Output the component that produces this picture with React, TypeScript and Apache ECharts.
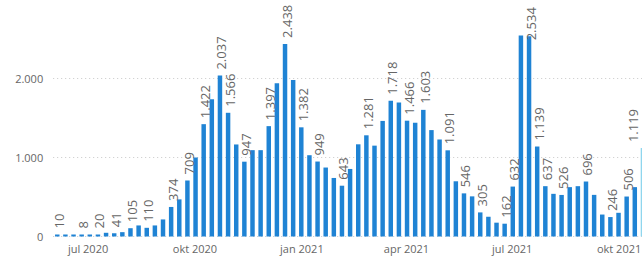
import React, { useEffect, useRef } from "react";
import * as echarts from "echarts";

// Weekly values (Monday weeks), starting week of 2020-06-01
const firstWeek = "2020-06-01";
const values: number[] = [
  10, 6, 5, 8, 9, 20, 47, 41, 55, 105,
  140, 110, 140, 216, 374, 470, 709, 1000, 1422, 1737,
  2037, 1566, 1165, 947, 1093, 1093, 1397, 1940, 2438, 1982,
  1382, 1029, 949, 873, 741, 643, 855, 1167, 1281, 1150,
  1463, 1718, 1696, 1466, 1440, 1603, 1347, 1228, 1091, 699,
  546, 508, 305, 250, 175, 162, 632, 2545, 2534, 1139,
  637, 540, 526, 625, 637, 696, 527, 278, 246, 300,
  506, 625, 1119,
];
// Indices of bars whose value is printed above them
const labeledBars: number[] = [
  0, 3, 5, 7, 9, 11, 14, 16, 18, 20, 21, 23, 26, 28, 30, 32, 35, 38, 41,
  43, 45, 48, 50, 52, 55, 56, 58, 59, 60, 62, 65, 68, 70, 72,
];
// Date axis tick labels
const tickDates: string[] = ["2020-07-01", "2020-10-01", "2021-01-01", "2021-04-01", "2021-07-01", "2021-10-01"];
const tickLabels: string[] = ["jul 2020", "okt 2020", "jan 2021", "apr 2021", "jul 2021", "okt 2021"];
const yTicks: number[] = [0, 1000, 2000];

const DAY = 86400000;
const fmt = (v: number) => String(Math.round(v)).replace(/\B(?=(\d{3})+(?!\d))/g, ".");

export default function App() {
  const ref = useRef<HTMLDivElement>(null);
  useEffect(() => {
    if (!ref.current) return;
    const chart = echarts.init(ref.current, undefined, { renderer: "svg" });
    const t0 = Date.parse(firstWeek + "T00:00:00Z");
    const categories = values.map((_, i) => new Date(t0 + i * 7 * DAY).toISOString().slice(0, 10));
    const tickPos = tickDates.map((d) => (Date.parse(d + "T00:00:00Z") - t0) / (7 * DAY) - 0.5);
    const n = values.length;
    const font = "'Open Sans', 'Segoe UI', sans-serif";
    const data = values.map((v, i) => {
      const item: any = { value: v };
      if (labeledBars.includes(i)) {
        item.label = { show: true };
        if (v > 2500) item.label.distance = -4;
        if (i === n - 1) item.label.offset = [0, -10];
      }
      if (i === n - 1) item.itemStyle = { color: "#8fd6ee" };
      return item;
    });
    chart.setOption({
      animation: false,
      grid: { left: 53.2, right: -5, top: -0.5, bottom: 23.5, containLabel: false, outerBoundsMode: "none" },
      xAxis: [
        {
          type: "category",
          data: categories,
          boundaryGap: true,
          axisLine: { show: false },
          axisTick: { show: false },
          axisLabel: { show: false },
          splitLine: { show: false },
        },
        {
          type: "value",
          min: -0.5,
          max: n - 0.5,
          position: "bottom",
          axisLine: { show: false },
          axisTick: { show: false },
          splitLine: { show: false },
          axisLabel: {
            customValues: tickPos,
            formatter: (val: number) => {
              let best = 0;
              tickPos.forEach((p, k) => {
                if (Math.abs(p - val) < Math.abs(tickPos[best] - val)) best = k;
              });
              return tickLabels[best];
            },
            color: "#666",
            fontSize: 11,
            fontFamily: font,
            margin: 6,
          },
        },
      ],
      yAxis: {
        type: "value",
        min: 0,
        max: 3000,
        interval: 1000,
        axisLine: { show: false },
        axisTick: { show: false },
        axisLabel: {
          formatter: (v: number) => (yTicks.includes(v) ? fmt(v) : ""),
          showMaxLabel: false,
          color: "#666",
          fontSize: 11,
          fontFamily: font,
          margin: 10,
        },
        splitLine: { lineStyle: { color: "#c8c8c8", type: [1, 3], width: 1 } },
      },
      series: [
        {
          type: "bar",
          xAxisIndex: 0,
          data,
          barWidth: "55%",
          barMinHeight: 2,
          itemStyle: { color: "#1f83d4" },
          label: {
            show: false,
            position: "top",
            rotate: 90,
            align: "left",
            verticalAlign: "middle",
            distance: 6,
            offset: [0, 1.5],
            color: "#666",
            fontSize: 13,
            fontFamily: font,
            formatter: (p: any) => fmt(p.value),
          },
        },
      ],
    });
    return () => chart.dispose();
  }, []);
  return <div ref={ref} style={{ position: "absolute", left: 0, top: 0, width: 642, height: 260 }} />;
}
